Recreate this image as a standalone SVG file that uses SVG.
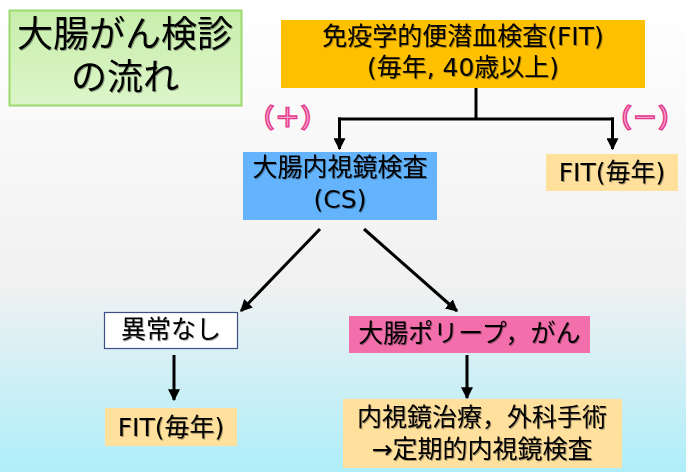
<svg xmlns="http://www.w3.org/2000/svg" width="686" height="472" viewBox="0 0 686 472">
<defs>
<linearGradient id="bg" x1="0" y1="0" x2="0" y2="1">
<stop offset="0" stop-color="#ffffff"/>
<stop offset="0.6" stop-color="#f1f1f1"/>
<stop offset="1" stop-color="#aeeefa"/>
</linearGradient>
<linearGradient id="tg" x1="0" y1="0" x2="0" y2="1">
<stop offset="0" stop-color="#c8eeac"/>
<stop offset="1" stop-color="#dcf5c9"/>
</linearGradient>
<filter id="sh" x="-10%" y="-10%" width="130%" height="140%">
<feDropShadow dx="1" dy="1" stdDeviation="0.7" flood-color="#000" flood-opacity="0.35"/>
</filter>
<marker id="ah" viewBox="0 0 10 10" refX="9" refY="5" markerWidth="4" markerHeight="4" orient="auto" markerUnits="strokeWidth">
<path d="M0,0 L10,5 L0,10 z" fill="#000"/>
</marker>
<style>
text{font-family:"DejaVu Sans","Noto Sans CJK JP",sans-serif;fill:#000;text-anchor:middle;filter:url(#sh)}
.t{font-size:25px}
.ttl{font-size:36px}
.sign{font-family:"Noto Sans CJK JP",sans-serif;font-size:26px;font-weight:bold;fill:#f7a3cc;stroke:#e5388c;stroke-width:1.4;filter:none}
.ln{stroke:#000;stroke-width:3;fill:none}
</style>
</defs>
<rect x="0" y="0" width="686" height="472" fill="url(#bg)"/>

<g id="title">
<rect x="9.5" y="10.5" width="232" height="95" fill="url(#tg)" stroke="#9bd96c" stroke-width="2"/>
<text class="ttl" x="125" y="47">大腸がん検診</text>
<text class="ttl" x="125" y="90">の流れ</text>
</g>

<g id="fit-top">
<rect x="281" y="20" width="364" height="68" fill="#ffc000"/>
<text class="t" x="463" y="45">免疫学的便潜血検査(FIT)</text>
<text class="t" x="463" y="76">(毎年, 40歳以上)</text>
</g>

<g id="label-plus"><text class="sign" x="287.5" y="127">（＋）</text></g>
<g id="label-minus"><text class="sign" x="645" y="127">（－）</text></g>

<g id="cs">
<rect x="243" y="152" width="194" height="68" fill="#63b4fd"/>
<text class="t" x="340" y="176">大腸内視鏡検査</text>
<text class="t" x="340" y="208">(CS)</text>
</g>

<g id="fit-right">
<rect x="546" y="154" width="132" height="37" fill="#ffe09c"/>
<text class="t" x="612" y="181">FIT(毎年)</text>
</g>

<g id="normal">
<rect x="104.5" y="312.5" width="133" height="36" fill="#ffffff" stroke="#3e5187" stroke-width="1.2"/>
<text class="t" x="171" y="338">異常なし</text>
</g>

<g id="polyp">
<rect x="349" y="316" width="241" height="37" fill="#f26fab"/>
<text class="t" x="469.5" y="342">大腸ポリープ，がん</text>
</g>

<g id="fit-bottom">
<rect x="105" y="408" width="132" height="38" fill="#ffe09c"/>
<text class="t" x="171" y="436">FIT(毎年)</text>
</g>

<g id="treatment">
<rect x="343" y="399" width="279" height="69" fill="#ffe09c"/>
<text class="t" x="482" y="426">内視鏡治療，外科手術</text>
<text class="t" x="482" y="458">→定期的内視鏡検査</text>
</g>

<g id="connectors">
<path class="ln" d="M476,88 V119"/>
<path class="ln" d="M338,119 H614"/>
<path class="ln" d="M339.5,117.5 V149" marker-end="url(#ah)"/>
<path class="ln" d="M612.5,117.5 V149" marker-end="url(#ah)"/>
<path class="ln" d="M320,229 L241,311" marker-end="url(#ah)"/>
<path class="ln" d="M364,229 L457,311" marker-end="url(#ah)"/>
<path class="ln" d="M174,355 V400" marker-end="url(#ah)"/>
<path class="ln" d="M467,355 V398" marker-end="url(#ah)"/>
</g>
</svg>
